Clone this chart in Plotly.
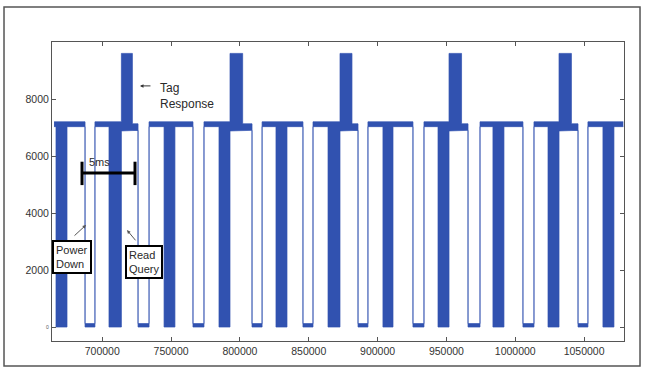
import plotly.graph_objects as go

# ---- data ----
signal_start, signal_end = 665000, 1078500
query_start = [666400, 704900, 744900, 784800, 826200, 864000, 903900, 943900, 983800, 1023800, 1063700]
query_end = [674400, 713900, 752800, 792800, 834200, 872700, 911200, 951900, 991800, 1031800, 1071700]
gap_start = [687500, 726000, 765900, 808800, 845800, 885800, 925700, 965700, 1005600, 1045600]
gap_end = [694700, 734000, 773900, 816100, 853100, 893000, 933700, 974400, 1013600, 1052800]
tag_start = [713900, 792800, 872700, 951900, 1031800]
tag_end = [721900, 802000, 881400, 961000, 1040800]

high_top, high_bottom = 7200, 7030
post_tag_top, post_tag_bottom = 7130, 6900
tag_top, tag_bottom = 9600, 6880
gap_top, floor_level = 120, 0

x_tickvals = [700000, 750000, 800000, 850000, 900000, 950000, 1000000, 1050000]
x_ticktext = ["700000", "750000", "800000", "850000", "900000", "950000", "1000000", "1050000"]
y_tickvals = [0, 2000, 4000, 6000, 8000]
y_ticktext = ["", "2000", "4000", "6000", "8000"]

# ---- build envelope from the segments ----
breaks = sorted(set([signal_start, signal_end] + query_start + query_end + gap_start + gap_end + tag_start + tag_end))
breaks = [b for b in breaks if signal_start <= b <= signal_end]


def inside(m, starts, ends):
    return any(s <= m < e for s, e in zip(starts, ends))


def after_tag(m):
    for te in tag_end:
        nxt = [g for g in gap_start if g > te]
        if nxt and te <= m < nxt[0]:
            return True
    return False


xs, up, lo = [], [], []
for a, b in zip(breaks[:-1], breaks[1:]):
    m = (a + b) / 2
    if inside(m, gap_start, gap_end):
        u, l = gap_top, floor_level
    elif inside(m, query_start, query_end):
        u, l = high_top, floor_level
    elif inside(m, tag_start, tag_end):
        u, l = tag_top, tag_bottom
    elif after_tag(m):
        u, l = post_tag_top, post_tag_bottom
    else:
        u, l = high_top, high_bottom
    xs += [a, b]
    up += [u, u]
    lo += [l, l]

blue = "#3152b0"
fig = go.Figure()
fig.add_trace(go.Scatter(x=xs, y=up, mode="lines", line=dict(color=blue, width=0.7), hoverinfo="skip"))
fig.add_trace(go.Scatter(x=xs, y=lo, mode="lines", line=dict(color=blue, width=0.7), fill="tonexty",
                         fillcolor=blue, hoverinfo="skip"))

fam = "Liberation Sans, Arial, sans-serif"
font = dict(family=fam, size=11, color="#2a2a2a")
axis_common = dict(showgrid=False, zeroline=False, showline=True, linecolor="#555555", linewidth=1,
                   mirror="ticks", ticks="inside", ticklen=4, tickcolor="#555555",
                   tickfont=dict(family=fam, size=10.5, color="#333333"))

fig.update_layout(
    width=646, height=375,
    margin=dict(l=52, r=22, t=42, b=34),
    paper_bgcolor="white", plot_bgcolor="white",
    showlegend=False,
    xaxis=dict(range=[663500, 1079000], tickvals=x_tickvals, ticktext=x_ticktext, **axis_common),
    yaxis=dict(range=[-490, 10000], tickvals=y_tickvals, ticktext=y_ticktext, **axis_common),
)

# outer frame
fig.add_shape(type="rect", xref="paper", yref="paper", x0=-0.0839, x1=1.028, y0=-0.0836, y1=1.117,
              line=dict(color="#555555", width=1.5))

# 5 ms scale bar
bar_x0, bar_x1, bar_y = 685300, 723800, 5400
fig.add_shape(type="line", x0=bar_x0, x1=bar_x1, y0=bar_y, y1=bar_y, line=dict(color="black", width=3))
for bx in (bar_x0, bar_x1):
    fig.add_shape(type="line", x0=bx, x1=bx, y0=4980, y1=5800, line=dict(color="black", width=3))
fig.add_annotation(x=698000, y=5780, text="5ms", showarrow=False, font=font)

# tiny zero label
fig.add_annotation(xref="paper", x=-0.014, y=0, text="0", showarrow=False,
                   font=dict(family=fam, size=5, color="#555555"))

# Tag Response
fig.add_annotation(x=740500, y=8100, text="Tag<br>Response", showarrow=False, xanchor="left",
                   align="left", font=dict(family=fam, size=12, color="#2a2a2a"))
fig.add_annotation(x=727400, y=8460, ax=12, ay=0, text=" ", showarrow=True, arrowhead=2,
                   arrowsize=0.7, arrowwidth=1, arrowcolor="#333333", font=dict(size=1))

# Power Down
fig.add_annotation(x=678000, y=2474, text="Power<br>Down", showarrow=False, align="left",
                   bordercolor="black", borderwidth=2, borderpad=2, bgcolor="white", font=font)
fig.add_annotation(x=688200, y=3580, ax=-13, ay=12, text=" ", showarrow=True, arrowhead=2,
                   arrowsize=0.7, arrowwidth=1, arrowcolor="#555555", font=dict(size=1))

# Read Query
fig.add_annotation(x=729970, y=2298, text="Read<br>Query", showarrow=False, align="left",
                   bordercolor="black", borderwidth=2, borderpad=2, bgcolor="white", font=font)
fig.add_annotation(x=718000, y=3400, ax=10, ay=12, text=" ", showarrow=True, arrowhead=2,
                   arrowsize=0.7, arrowwidth=1, arrowcolor="#555555", font=dict(size=1))

fig.write_html("out.html", config={"displayModeBar": False},
               post_script="document.body.style.margin='0';document.body.style.overflow='hidden';")
